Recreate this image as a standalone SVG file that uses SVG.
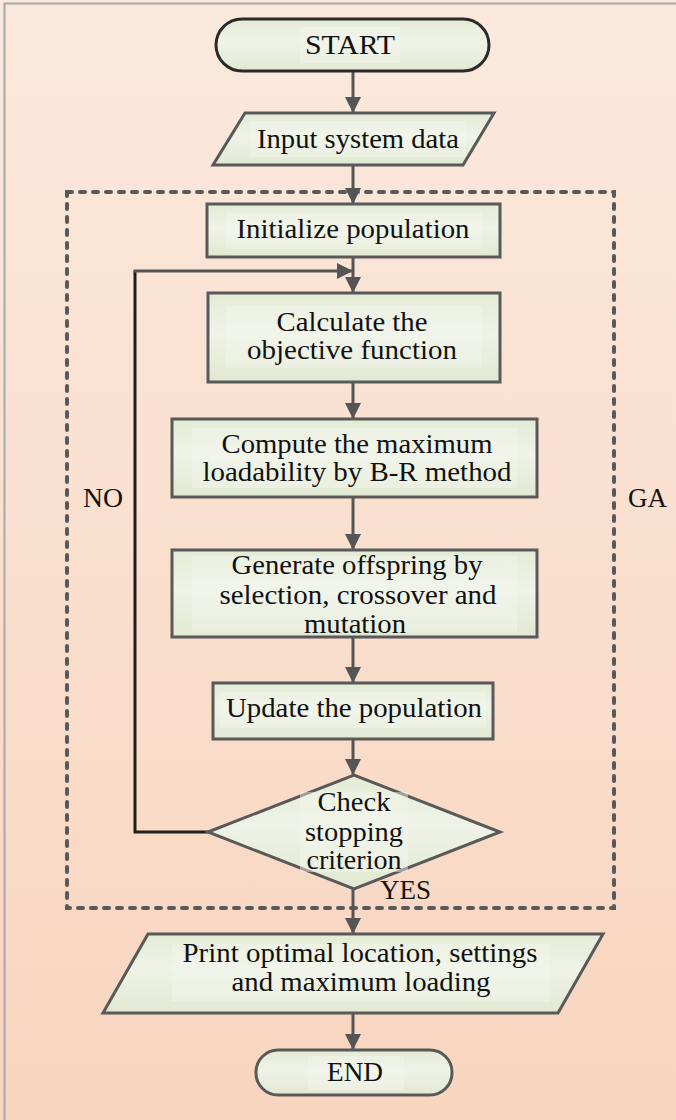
<svg xmlns="http://www.w3.org/2000/svg" width="676" height="1120" viewBox="0 0 676 1120">
  <defs>
    <linearGradient id="bg" x1="0" y1="0" x2="0" y2="1">
      <stop offset="0" stop-color="#fbe9dd"/>
      <stop offset="1" stop-color="#f8d5bf"/>
    </linearGradient>
    <linearGradient id="nodeFill" x1="0" y1="0" x2="0" y2="1">
      <stop offset="0" stop-color="#e3ecd6"/>
      <stop offset="0.45" stop-color="#eff3e8"/>
      <stop offset="1" stop-color="#e0e9d2"/>
    </linearGradient>
    <marker id="arrow" viewBox="0 0 16 16" refX="16" refY="8" markerWidth="16" markerHeight="16" markerUnits="userSpaceOnUse" orient="auto">
      <path d="M0,0 L16,8 L0,16 Z" fill="#555555"/>
    </marker>
    <style>
      .node { fill: url(#nodeFill); stroke: #595959; stroke-width: 3; stroke-linejoin: miter; }
      .term { fill: url(#nodeFill); stroke: #2a2a2a; stroke-width: 3; }
      .hl { fill: #f3f6ee; opacity: 0.45; }
      text { font-family: 'Liberation Serif', 'Times New Roman', Times, serif; font-size: 28px; fill: #111111; }
      .lbl { text-anchor: middle; }
      .conn { fill: none; stroke: #555555; stroke-width: 3; }
      .conn-dark { fill: none; stroke: #1e1e1e; stroke-width: 3; }
      .group-box { fill: none; stroke: #595959; stroke-width: 4; stroke-dasharray: 5 8; stroke-linecap: round; }
    </style>
  </defs>

  <!-- page background and frame -->
  <rect x="0" y="0" width="676" height="1120" fill="url(#bg)"/>
  <path d="M4.5,1120 V3.5 H676" fill="none" stroke="#a8a8a8" stroke-width="2"/>

  <!-- GA loop boundary -->
  <g id="ga-region">
    <rect class="group-box" x="67" y="192" width="547" height="716"/>
    <text x="628" y="507" textLength="39" lengthAdjust="spacingAndGlyphs">GA</text>
  </g>

  <!-- connectors -->
  <g id="connectors">
    <line class="conn" x1="353" y1="71" x2="353" y2="113" marker-end="url(#arrow)"/>
    <line class="conn" x1="353" y1="165" x2="353" y2="204" marker-end="url(#arrow)"/>
    <line class="conn" x1="353" y1="257" x2="353" y2="293" marker-end="url(#arrow)"/>
    <line class="conn" x1="353" y1="382" x2="353" y2="419" marker-end="url(#arrow)"/>
    <line class="conn" x1="353" y1="497" x2="353" y2="550" marker-end="url(#arrow)"/>
    <line class="conn" x1="353" y1="637" x2="353" y2="683" marker-end="url(#arrow)"/>
    <line class="conn" x1="353" y1="739" x2="353" y2="775" marker-end="url(#arrow)"/>
    <line class="conn" x1="353" y1="889" x2="353" y2="934" marker-end="url(#arrow)"/>
    <line class="conn" x1="353" y1="1013" x2="353" y2="1050" marker-end="url(#arrow)"/>
    <!-- NO branch back to the objective function -->
    <path class="conn-dark" d="M208,832 H135 V271"/>
    <path class="conn" d="M133.5,271 H353" marker-end="url(#arrow)"/>
    <text x="83" y="507" textLength="40" lengthAdjust="spacingAndGlyphs">NO</text>
    <text x="380" y="899" textLength="51" lengthAdjust="spacingAndGlyphs">YES</text>
  </g>

  <g id="start">
    <rect class="term" x="216" y="19" width="273" height="52" rx="26"/>
    <rect class="hl" x="300" y="27" width="100" height="36"/>
    <text class="lbl" x="350" y="54" textLength="90" lengthAdjust="spacingAndGlyphs">START</text>
  </g>

  <g id="input">
    <polygon class="node" points="245,113 494,113 463,165 213,165"/>
    <rect class="hl" x="250" y="121" width="216" height="36"/>
    <text class="lbl" x="358" y="148" textLength="202" lengthAdjust="spacingAndGlyphs">Input system data</text>
  </g>

  <g id="init">
    <rect class="node" x="207" y="204" width="293" height="53"/>
    <rect class="hl" x="226" y="213" width="256" height="36"/>
    <text class="lbl" x="353" y="238" textLength="233" lengthAdjust="spacingAndGlyphs">Initialize population</text>
  </g>

  <g id="objective">
    <rect class="node" x="208" y="293" width="292" height="89"/>
    <rect class="hl" x="226" y="306" width="256" height="62"/>
    <text class="lbl" x="352" y="331" textLength="151" lengthAdjust="spacingAndGlyphs">Calculate the</text>
    <text class="lbl" x="352" y="359" textLength="210" lengthAdjust="spacingAndGlyphs">objective function</text>
  </g>

  <g id="loadability">
    <rect class="node" x="172" y="419" width="365" height="78"/>
    <rect class="hl" x="192" y="428" width="325" height="60"/>
    <text class="lbl" x="357" y="453" textLength="271" lengthAdjust="spacingAndGlyphs">Compute the maximum</text>
    <text class="lbl" x="357" y="481" textLength="309" lengthAdjust="spacingAndGlyphs">loadability by B-R method</text>
  </g>

  <g id="offspring">
    <rect class="node" x="172" y="550" width="365" height="87"/>
    <rect class="hl" x="192" y="556" width="325" height="76"/>
    <text class="lbl" x="357" y="574" textLength="251" lengthAdjust="spacingAndGlyphs">Generate offspring by</text>
    <text class="lbl" x="358" y="604" textLength="277" lengthAdjust="spacingAndGlyphs">selection, crossover and</text>
    <text class="lbl" x="355" y="633" textLength="102" lengthAdjust="spacingAndGlyphs">mutation</text>
  </g>

  <g id="update">
    <rect class="node" x="213" y="683" width="280" height="56"/>
    <rect class="hl" x="220" y="692" width="266" height="36"/>
    <text class="lbl" x="354" y="717" textLength="256" lengthAdjust="spacingAndGlyphs">Update the population</text>
  </g>

  <g id="stop-check">
    <polygon class="node" points="208,832 354,775 500,832 354,889"/>
    <rect class="hl" x="300" y="792" width="108" height="80"/>
    <text class="lbl" x="354" y="811" textLength="73" lengthAdjust="spacingAndGlyphs">Check</text>
    <text class="lbl" x="354" y="841" textLength="98" lengthAdjust="spacingAndGlyphs">stopping</text>
    <text class="lbl" x="354" y="869" textLength="95" lengthAdjust="spacingAndGlyphs">criterion</text>
  </g>

  <g id="output">
    <polygon class="node" points="148,934 603,934 558,1013 103,1013"/>
    <rect class="hl" x="172" y="944" width="378" height="58"/>
    <text class="lbl" x="360" y="962" textLength="355" lengthAdjust="spacingAndGlyphs">Print optimal location, settings</text>
    <text class="lbl" x="361" y="991" textLength="259" lengthAdjust="spacingAndGlyphs">and maximum loading</text>
  </g>

  <g id="end">
    <rect class="node" x="256" y="1050" width="196" height="45" rx="22"/>
    <rect class="hl" x="308" y="1056" width="96" height="34"/>
    <text class="lbl" x="355" y="1081" textLength="56" lengthAdjust="spacingAndGlyphs">END</text>
  </g>
</svg>
